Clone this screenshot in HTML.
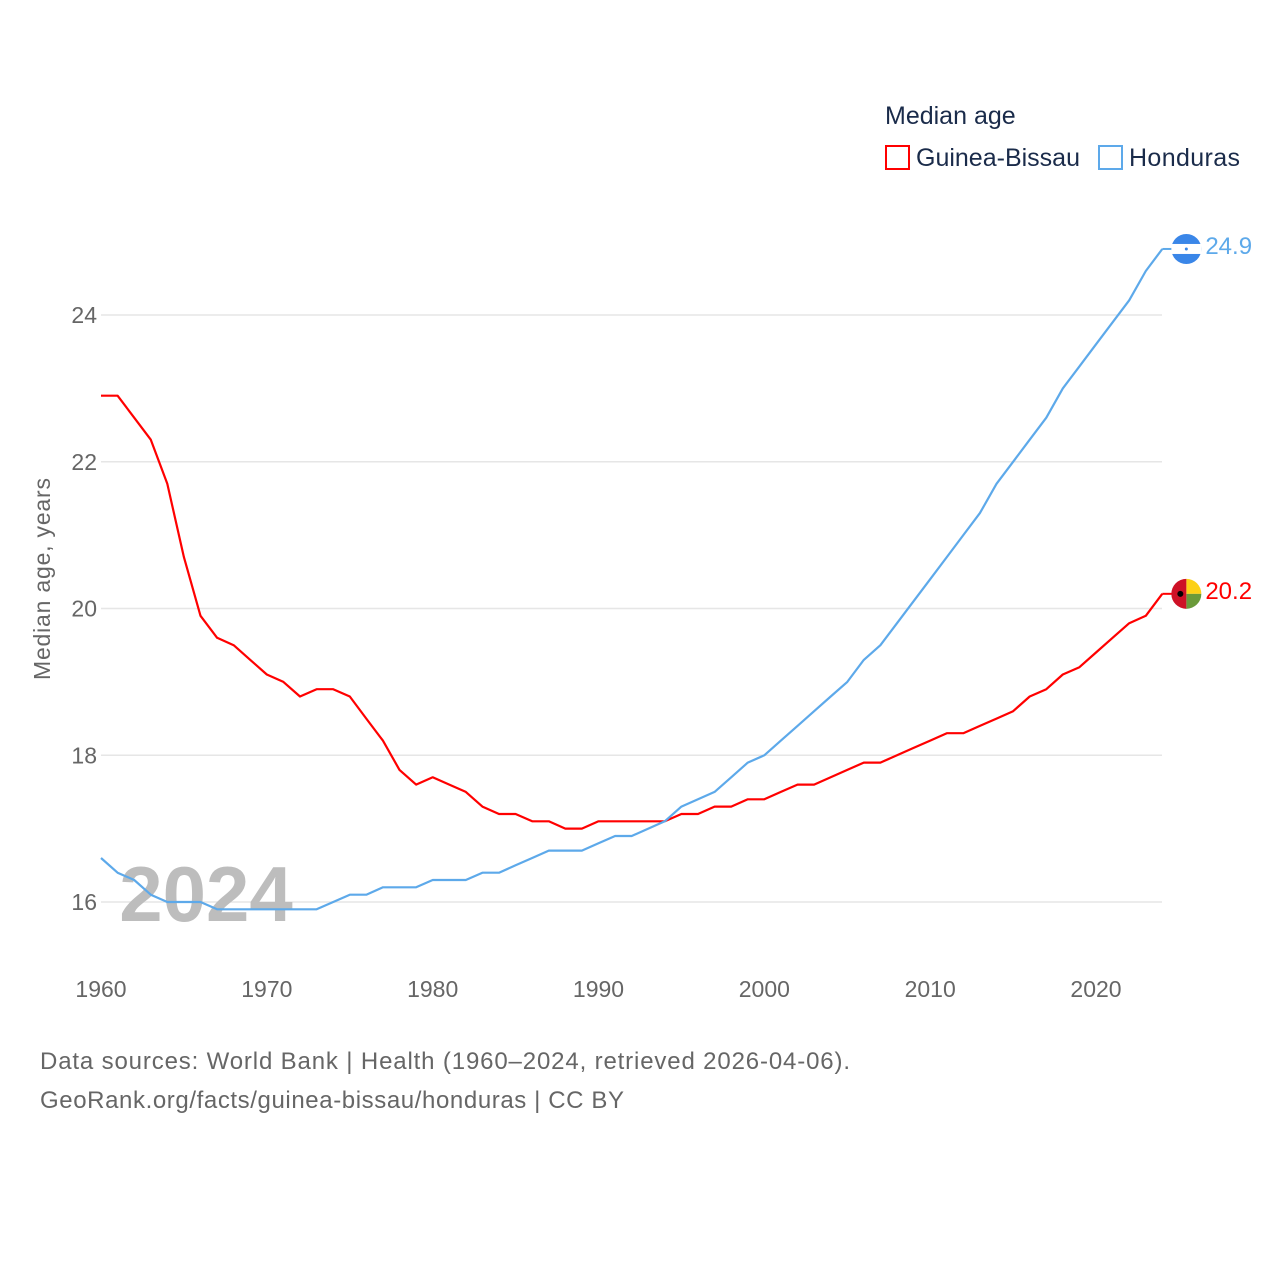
<!DOCTYPE html>
<html><head><meta charset="utf-8"><style>
body{margin:0;background:#fff;}
svg text{font-family:"Liberation Sans",sans-serif;}
</style></head><body>
<svg id="chart" width="1280" height="1280" viewBox="0 0 1280 1280" xmlns="http://www.w3.org/2000/svg">
<rect width="1280" height="1280" fill="#fff"/>
<g id="grid"></g>
<text x="206" y="921" font-size="78" font-weight="bold" fill="#bdbdbd" text-anchor="middle">2024</text>
<g id="yticks"></g>
<g id="xticks"></g>
<text transform="translate(50,579) rotate(-90)" font-size="23" fill="#666" text-anchor="middle" textLength="202">Median age, years</text>
<g id="series"></g>
<g>
<text x="885" y="124" font-size="25" fill="#1a2b4a">Median age</text>
<g><rect x="886" y="146" width="23" height="23" fill="none" stroke="#ff0000" stroke-width="2"/><text x="916" y="166" font-size="25" fill="#1a2b4a">Guinea-Bissau</text></g>
<g><rect x="1099" y="146" width="23" height="23" fill="none" stroke="#5da9ea" stroke-width="2"/><text x="1129" y="166" font-size="25" fill="#1a2b4a" textLength="111">Honduras</text></g>
</g>
<text x="40" y="1069" font-size="24" fill="#666" textLength="810">Data sources: World Bank | Health (1960–2024, retrieved 2026-04-06).</text>
<text x="40" y="1108" font-size="24" fill="#666" textLength="584">GeoRank.org/facts/guinea-bissau/honduras | CC BY</text>
</svg>
<script>
const years=[];for(let y=1960;y<=2024;y++)years.push(y);
const guineaBissau=[22.9,22.9,22.6,22.3,21.7,20.7,19.9,19.6,19.5,19.3,19.1,19.0,18.8,18.9,18.9,18.8,18.5,18.2,17.8,17.6,17.7,17.6,17.5,17.3,17.2,17.2,17.1,17.1,17.0,17.0,17.1,17.1,17.1,17.1,17.1,17.2,17.2,17.3,17.3,17.4,17.4,17.5,17.6,17.6,17.7,17.8,17.9,17.9,18.0,18.1,18.2,18.3,18.3,18.4,18.5,18.6,18.8,18.9,19.1,19.2,19.4,19.6,19.8,19.9,20.2];
const honduras=[16.6,16.4,16.3,16.1,16.0,16.0,16.0,15.9,15.9,15.9,15.9,15.9,15.9,15.9,16.0,16.1,16.1,16.2,16.2,16.2,16.3,16.3,16.3,16.4,16.4,16.5,16.6,16.7,16.7,16.7,16.8,16.9,16.9,17.0,17.1,17.3,17.4,17.5,17.7,17.9,18.0,18.2,18.4,18.6,18.8,19.0,19.3,19.5,19.8,20.1,20.4,20.7,21.0,21.3,21.7,22.0,22.3,22.6,23.0,23.3,23.6,23.9,24.2,24.6,24.9];
const yTicks=[16,18,20,22,24];
const xTicks=[1960,1970,1980,1990,2000,2010,2020];
const NS="http://www.w3.org/2000/svg";
const xs=yr=>101+(yr-1960)*(1096-101)/60;
const ys=v=>902-(v-16)*(902-315)/8;
function mk(tag,attrs,parent,txt){const e=document.createElementNS(NS,tag);for(const k in attrs)e.setAttribute(k,attrs[k]);if(txt!==undefined)e.textContent=txt;parent.appendChild(e);return e;}
const grid=document.getElementById('grid'),yt=document.getElementById('yticks'),xt=document.getElementById('xticks'),ser=document.getElementById('series');
yTicks.forEach(v=>{
 const l=mk('line',{x1:101,x2:1162,y1:ys(v),y2:ys(v),stroke:'#e6e6e6','stroke-width':1.5},grid);
 
 
 const t=mk('text',{x:97,y:ys(v)+8,'font-size':23,fill:'#666','text-anchor':'end'},yt,String(v));
 
 
});
xTicks.forEach(y=>{
 const t=mk('text',{x:xs(y),y:997,'font-size':23,fill:'#666','text-anchor':'middle'},xt,String(y));
 
 
});
function draw(vals,color,name,flag){
 const pts=vals.map((v,i)=>xs(years[i]).toFixed(1)+','+ys(v).toFixed(1)).join(' ');
 const p=mk('polyline',{points:pts,fill:'none',stroke:color,'stroke-width':2.2,'stroke-linejoin':'round'},ser);
 
 
 const last=vals[vals.length-1],ly=ys(last),lx=xs(years[years.length-1]);
 mk('line',{x1:lx,x2:lx+12,y1:ly,y2:ly,stroke:color,'stroke-width':2},ser);
 const g=mk('g',{},ser);
 
 
 flag(g,lx+24,ly);
 const t=mk('text',{x:lx+43,y:ly+5,'font-size':24,fill:color},ser,last.toFixed(1));
 
 
}
draw(guineaBissau,'#ff0000','guinea-bissau',(g,cx,cy)=>{
 mk('path',{d:`M${cx},${cy-15} A15,15 0 0,1 ${cx+15},${cy} L${cx},${cy}Z`,fill:'#fcd116'},g);
 mk('path',{d:`M${cx+15},${cy} A15,15 0 0,1 ${cx},${cy+15} L${cx},${cy}Z`,fill:'#6a9a3a'},g);
 mk('path',{d:`M${cx},${cy+15} A15,15 0 0,1 ${cx},${cy-15}Z`,fill:'#ce1126'},g);
 mk('circle',{cx:cx-6,cy:cy,r:3,fill:'#000'},g);
});
draw(honduras,'#5da9ea','honduras',(g,cx,cy)=>{
 mk('circle',{cx:cx,cy:cy,r:15,fill:'#3a86e8'},g);
 mk('rect',{x:cx-15,y:cy-5,width:30,height:10,fill:'#fff'},g);
 mk('circle',{cx:cx,cy:cy,r:1.5,fill:'#3a86e8'},g);
});
</script>
</body></html>
